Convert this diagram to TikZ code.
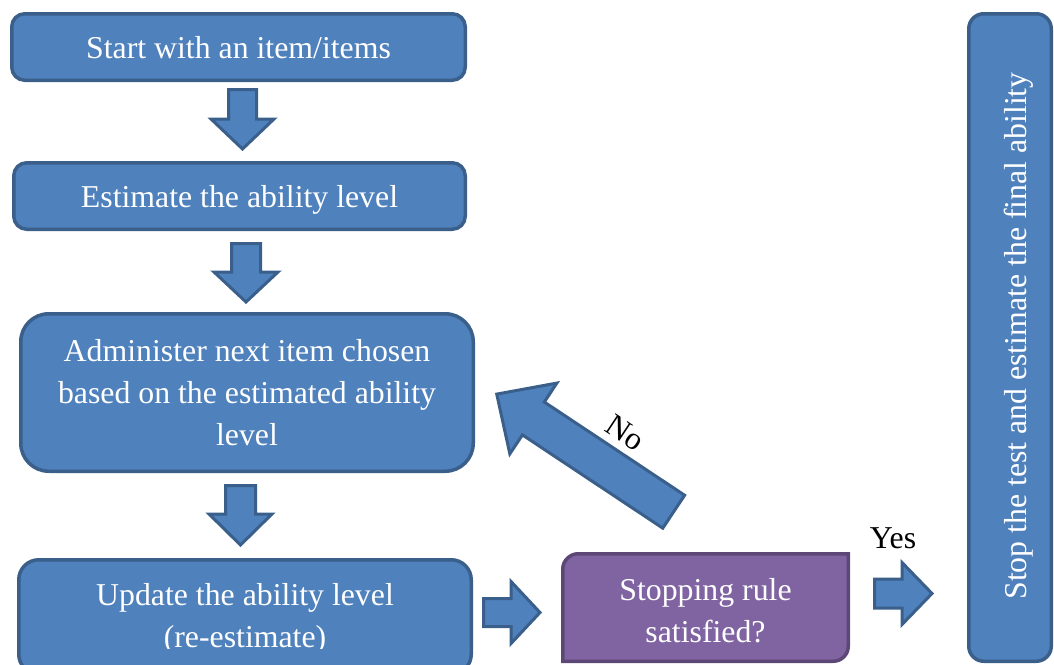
\documentclass[tikz,border=0pt]{standalone}
\usepackage{fontspec}
\setmainfont{Liberation Serif}
\definecolor{bfill}{HTML}{4F81BD}
\definecolor{bline}{HTML}{3A5F8B}
\definecolor{pfill}{HTML}{8064A2}
\definecolor{pline}{HTML}{5C4776}
\newcommand{\dfont}{\fontsize{31.8pt}{42pt}\selectfont}
% block arrow: tail x, tail y, angle, length, shaft width, head width, head length
\newcommand{\blockarr}[7]{%
  \begin{scope}[shift={(#1,#2)}, rotate=#3]
    \draw[barrow] (0,-#5/2) -- (#4-#7,-#5/2) -- (#4-#7,-#6/2) -- (#4,0)
      -- (#4-#7,#6/2) -- (#4-#7,#5/2) -- (0,#5/2) -- cycle;
  \end{scope}}
\begin{document}
\begin{tikzpicture}[x=1pt,y=-1pt,
  box/.style={draw=bline, fill=bfill, line width=3.5pt, inner sep=0pt,
    text=white, align=center, font=\dfont},
  wtxt/.style={text=white, inner sep=0pt, align=center, font=\dfont},
  lbl/.style={text=black, inner sep=0pt, font=\dfont, text height=22pt, text depth=0pt},
  barrow/.style={draw=bline, fill=bfill, line width=3pt, line join=miter}]
\useasboundingbox (0,0) rectangle (1054,664);
\clip (0,0) rectangle (1054,664);

\node[box, minimum width=453.5pt, minimum height=66.5pt, rounded corners=13pt,
  text height=22pt, text depth=0pt] (start) at (238.5,47) {Start with an item/items};
\node[box, minimum width=451.5pt, minimum height=66.5pt, rounded corners=13pt,
  text height=22pt, text depth=0pt] (estimate) at (239.5,196) {Estimate the ability level};
\node[box, minimum width=452.5pt, minimum height=157.5pt, rounded corners=28pt]
  (administer) at (247,392.5) {Administer next item chosen\\based on the estimated ability\\level};
\node[box, minimum width=452.5pt, minimum height=114.5pt, rounded corners=20pt]
  (update) at (245,617) {};
\begin{scope}
  \clip (0,0) rectangle (1054,648.5);
  \node[wtxt] (updatetext) at (245,618.5) {Update the ability level\\(re-estimate)};
\end{scope}

% stopping rule box (rounded top-left and bottom-right corners)
\draw[draw=pline, fill=pfill, line width=3.5pt, line join=miter]
  (562.75,568.75) .. controls (562.75,560.47) and (570.47,553.75) .. (577.75,553.75)
  -- (848.25,553.75) -- (848.25,646.25)
  .. controls (848.25,654.53) and (841.53,661.25) .. (833.25,661.25)
  -- (562.75,661.25) -- cycle;
\node[wtxt] (stoprule) at (705.5,611) {Stopping rule\\satisfied?};

\node[box, minimum width=82.5pt, minimum height=647.5pt, rounded corners=15pt]
  (final) at (1010,337.5) {};
\node[wtxt, rotate=90, text height=22pt, text depth=0pt] (finaltext) at (1015,336)
  {Stop the test and estimate the final ability};

\node[lbl] (yes) at (893,537) {Yes};
\node[lbl, rotate=-33.6] (no) at (626,432) {No};

\blockarr{242.5}{89.5}{-90}{59.5}{28}{63}{30}
\blockarr{246}{243.5}{-90}{58.5}{29}{64}{30}
\blockarr{240.5}{485.5}{-90}{59.5}{30}{63}{31}
\blockarr{483.5}{612.5}{0}{56.5}{28}{62}{29}
\blockarr{874.5}{593.5}{0}{57.5}{29}{62}{30}
\blockarr{673.7}{511.7}{146.4}{212.5}{39.5}{85}{44}
\end{tikzpicture}
\end{document}
